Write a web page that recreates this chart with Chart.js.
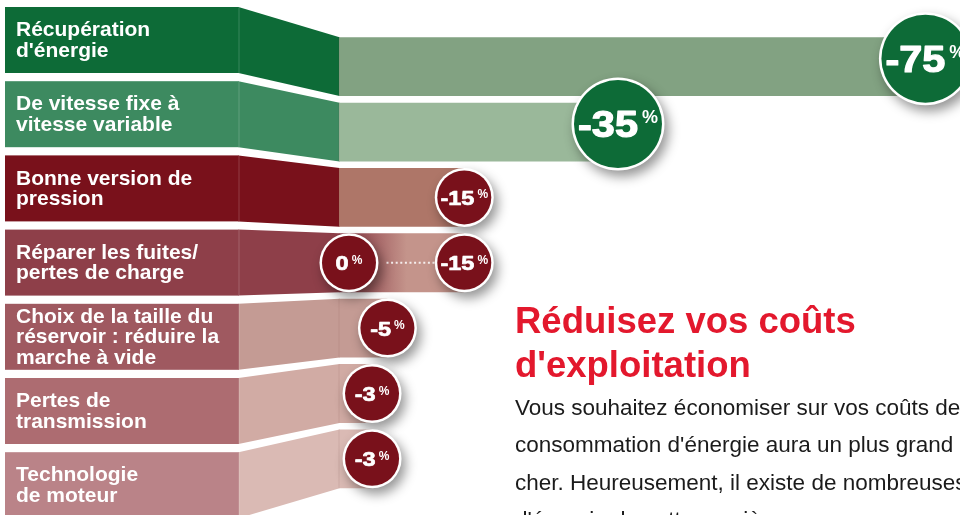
<!DOCTYPE html>
<html><head><meta charset="utf-8">
<script src="https://cdn.jsdelivr.net/npm/chart.js@4/dist/chart.umd.min.js"></script>
<style>
html,body{margin:0;padding:0;background:#fff;overflow:hidden;width:960px;height:515px}
#wrap{position:relative;width:960px;height:515px;overflow:hidden}
canvas{position:absolute;left:0;top:0}
.title{position:absolute;left:515px;top:298.5px;font:bold 36.5px "Liberation Sans",Arial,sans-serif;line-height:44px;color:#e3182d;white-space:nowrap}
.body{position:absolute;left:515px;top:388.5px;font:22.5px "Liberation Sans",Arial,sans-serif;line-height:37.5px;color:#1b1b1b;white-space:nowrap}
</style></head>
<body><div id="wrap"><canvas id="c" width="960" height="515"></canvas><div class="title" id="title"></div><div class="body" id="body"></div></div>
<script>
// ---- data ----
const categories = [
  ["Récupération", "d'énergie"],
  ["De vitesse fixe à", "vitesse variable"],
  ["Bonne version de", "pression"],
  ["Réparer les fuites/", "pertes de charge"],
  ["Choix de la taille du", "réservoir : réduire la", "marche à vide"],
  ["Pertes de", "transmission"],
  ["Technologie", "de moteur"]
];
const savings = [-75, -35, -15, -15, -5, -3, -3];
const rangeStart = [null, null, null, 0, null, null, null];
const titleLines = ["Réduisez vos coûts", "d'exploitation"];
const bodyLines = [
  "Vous souhaitez économiser sur vos coûts de fonctionnement ? La",
  "consommation d'énergie aura un plus grand impact, car l'air comprimé coûte",
  "cher. Heureusement, il existe de nombreuses façons de réaliser des économies",
  "d'énergie de cette manière."
];

// ---- styles ----
const labelColors = ['#0d6b37','#3d8a60','#79111b','#8e3f49','#9f5960','#ad6c71','#ba8388'];
const connectorColors = ['#0d6b37','#3d8a60','#79111b','#8e3f49','#c49b94','#d1aba4','#dabab4'];
const barColors = ['#82a282','#9ab89a','#ae7668','gradient','#c49b94','#d1aba4','#dabab4'];
const badgeColors = ['#0d6b37','#0d6b37','#79111b','#79111b','#79111b','#79111b','#79111b'];
const badgeBig = [true, true, false, false, false, false, false];

const X_MIN = -79.5, X_MAX = 1.3;
const BOX_LEFT = 5, BOX_RIGHT = 239, BOX_TOP = 7, BOX_PITCH = 74.2, BOX_H = 66;
const FONT = '"Liberation Sans", Arial, sans-serif';

document.getElementById('title').innerHTML = titleLines.join('<br>');
document.getElementById('body').innerHTML = bodyLines.join('<br>');

function drawBadge(ctx, cx, cy, big, color, value) {
  const r = big ? 46.5 : 29.5;
  ctx.save();
  ctx.shadowColor = 'rgba(0,0,0,0.42)';
  ctx.shadowBlur = 12; ctx.shadowOffsetX = 4; ctx.shadowOffsetY = 6;
  ctx.beginPath(); ctx.arc(cx, cy, r, 0, Math.PI * 2);
  ctx.fillStyle = '#ffffff'; ctx.fill();
  ctx.shadowColor = 'transparent';
  ctx.beginPath(); ctx.arc(cx, cy, r - 2.5, 0, Math.PI * 2);
  ctx.fillStyle = color; ctx.fill();

  const numSize = big ? 36 : 21, sx = big ? 1.15 : 1.12, pctSize = big ? 18 : 12, gap = big ? 4 : 3;
  const txt = String(value);
  ctx.fillStyle = '#ffffff';
  ctx.strokeStyle = '#ffffff';
  ctx.lineJoin = 'round';
  ctx.textBaseline = 'alphabetic';
  ctx.textAlign = 'left';
  ctx.font = 'bold ' + numSize + 'px ' + FONT;
  const numW = ctx.measureText(txt).width * sx;
  ctx.font = 'bold ' + pctSize + 'px ' + FONT;
  const pctW = ctx.measureText('%').width;
  const total = numW + gap + pctW;
  const x0 = cx - total / 2;
  const capH = numSize * 0.716;
  ctx.save();
  ctx.translate(x0, cy + capH / 2);
  ctx.scale(sx, 1);
  ctx.font = 'bold ' + numSize + 'px ' + FONT;
  ctx.lineWidth = big ? 1.2 : 0.7;
  ctx.fillText(txt, 0, 0);
  ctx.strokeText(txt, 0, 0);
  ctx.restore();
  ctx.font = 'bold ' + pctSize + 'px ' + FONT;
  ctx.fillText('%', x0 + numW + gap, cy - capH / 2 + pctSize * 0.716 + (big ? -1 : 0));
  ctx.restore();
}

const infographic = {
  id: 'infographic',
  beforeDatasetsDraw(chart) {
    const ctx = chart.ctx, area = chart.chartArea;
    const meta = chart.getDatasetMeta(0);
    ctx.save();
    categories.forEach((lines, i) => {
      const top = BOX_TOP + i * BOX_PITCH;
      const bar = meta.data[i].getProps(['x', 'y', 'height'], true);
      const yT = bar.y - bar.height / 2, yB = bar.y + bar.height / 2;
      ctx.fillStyle = connectorColors[i];
      ctx.beginPath();
      ctx.moveTo(BOX_RIGHT - 0.5, top);
      ctx.lineTo(area.left + 0.5, yT);
      ctx.lineTo(area.left + 0.5, yB);
      ctx.lineTo(BOX_RIGHT - 0.5, top + BOX_H);
      ctx.closePath(); ctx.fill();
      ctx.fillStyle = labelColors[i];
      ctx.fillRect(BOX_LEFT, top, BOX_RIGHT - BOX_LEFT, BOX_H);
      ctx.fillStyle = 'rgba(255,255,255,0.18)';
      ctx.fillRect(BOX_RIGHT - 0.5, top, 1, BOX_H);
      ctx.fillStyle = '#ffffff';
      ctx.font = 'bold 21px ' + FONT;
      ctx.textBaseline = 'alphabetic';
      const lh = 20.5, cy = top + BOX_H / 2;
      lines.forEach((t, k) => {
        ctx.fillText(t, 16, cy - (lines.length - 1) * lh / 2 + k * lh + 6.5);
      });
    });
    ctx.restore();
  },
  afterDatasetsDraw(chart) {
    const ctx = chart.ctx, area = chart.chartArea, xs = chart.scales.x;
    const meta = chart.getDatasetMeta(0);
    ctx.save();
    categories.forEach((l, i) => {
      const bar = meta.data[i].getProps(['x', 'y', 'height'], true);
      ctx.fillStyle = 'rgba(110,40,40,0.10)';
      ctx.fillRect(area.left - 0.5, bar.y - bar.height / 2, 1, bar.height);
    });
    savings.forEach((v, i) => {
      if (rangeStart[i] === null) return;
      const bar = meta.data[i].getProps(['x', 'y'], true);
      const xa = xs.getPixelForValue(rangeStart[i]);
      ctx.save();
      ctx.strokeStyle = 'rgba(255,255,255,0.85)';
      ctx.lineWidth = 2; ctx.setLineDash([2, 2.6]);
      ctx.beginPath();
      ctx.moveTo(xa + 29.5 + 8, bar.y); ctx.lineTo(bar.x - 29.5, bar.y);
      ctx.stroke();
      ctx.restore();
    });
    savings.forEach((v, i) => {
      const bar = meta.data[i].getProps(['x', 'y'], true);
      const cy = bar.y + (badgeBig[i] ? -8 : 0);
      if (rangeStart[i] !== null) {
        drawBadge(ctx, xs.getPixelForValue(rangeStart[i]), cy, badgeBig[i], badgeColors[i], rangeStart[i]);
      }
      drawBadge(ctx, bar.x, cy, badgeBig[i], badgeColors[i], v);
    });
    ctx.restore();
  }
};

new Chart(document.getElementById('c'), {
  type: 'bar',
  data: {
    labels: categories,
    datasets: [{
      data: savings,
      base: X_MAX,
      borderWidth: 0,
      barPercentage: 0.9,
      categoryPercentage: 1,
      backgroundColor: (c) => {
        const i = c.dataIndex;
        if (barColors[i] !== 'gradient') return barColors[i];
        const chart = c.chart;
        if (!chart.chartArea) return '#c4948b';
        const xs = chart.scales.x;
        const g = chart.ctx.createLinearGradient(xs.getPixelForValue(0), 0, xs.getPixelForValue(-7.5), 0);
        g.addColorStop(0, '#8e3f49');
        g.addColorStop(1, '#c4948b');
        return g;
      }
    }]
  },
  options: {
    indexAxis: 'y',
    responsive: false,
    animation: false,
    layout: { padding: { left: 339, right: 0, top: 34, bottom: 23.5 } },
    plugins: { legend: { display: false }, tooltip: { enabled: false } },
    scales: {
      x: { type: 'linear', reverse: true, min: X_MIN, max: X_MAX, display: false },
      y: { display: false }
    }
  },
  plugins: [infographic]
});
</script>
</body></html>
